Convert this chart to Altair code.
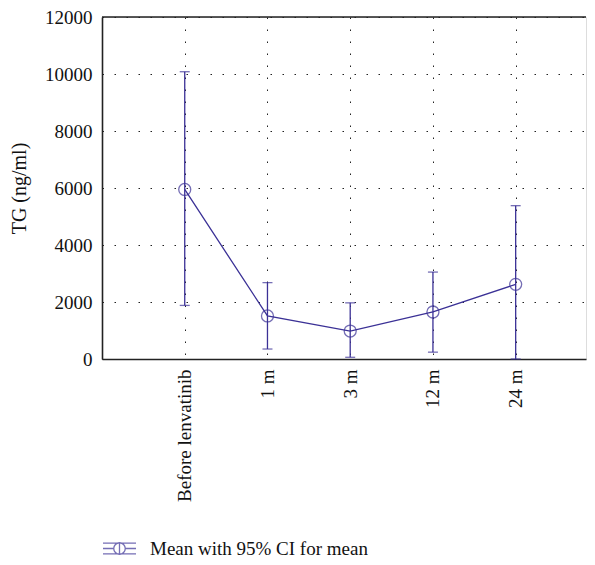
import json
import altair as alt
import pandas as pd

categories = ["Before lenvatinib", "1 m", "3 m", "12 m", "24 m"]
means = [5950, 1510, 980, 1650, 2620]
lower = [1880, 350, 60, 240, 0]
upper = [10080, 2680, 1970, 3050, 5380]
series_name = "Mean with 95% CI for mean"
y_ticks = [0, 2000, 4000, 6000, 8000, 10000, 12000]
y_max = 12000

df = pd.DataFrame({
    "idx": list(range(1, len(categories) + 1)),
    "cat": categories,
    "mean": means,
    "lo": lower,
    "hi": upper,
    "series": [series_name] * len(categories),
    "top": [y_max] * len(categories),
})

COLOR = "#3b3196"
FONT = "Liberation Serif"
W, H = 484, 342

label_expr = json.dumps(categories) + "[datum.value - 1]"

xscale = alt.Scale(domain=[0, 5.85], nice=False, zero=False)
yscale = alt.Scale(domain=[0, y_max], nice=False)

x_axis = alt.Axis(
    values=list(range(1, len(categories) + 1)),
    labelExpr=label_expr,
    labelAngle=270,
    labelAlign="right",
    labelBaseline="middle",
    labelPadding=10,
    ticks=False,
    grid=True,
    gridDash=[1.5, 10.5],
    gridColor="#222",
    gridWidth=1,
    domain=True,
    domainColor="#222",
    domainWidth=1.6,
    title=None,
    labelFont=FONT,
    labelFontSize=19,
    labelColor="#111",
)
y_axis = alt.Axis(
    values=y_ticks,
    format="d",
    ticks=False,
    grid=True,
    gridDash=[1.5, 10.5],
    gridColor="#222",
    gridWidth=1,
    domain=True,
    domainColor="#222",
    domainWidth=1.6,
    labelPadding=10,
    title="TG (ng/ml)",
    titleFont=FONT,
    titleFontSize=20,
    titleFontWeight="normal",
    titleColor="#111",
    titlePadding=15,
    labelFont=FONT,
    labelFontSize=19,
    labelColor="#111",
)

legend_path = (
    "M-1,-0.33H1M-1,0.33H1M-1,0H-0.35M0.35,0H1M0,-0.33V0.33"
    "M0.35,0A0.35,0.35 0 1,1 -0.35,0A0.35,0.35 0 1,1 0.35,0Z"
)

color = alt.Color(
    "series:N",
    scale=alt.Scale(range=[COLOR]),
    legend=alt.Legend(
        title=None,
        orient="none",
        legendX=0,
        legendY=514,
        symbolType=legend_path,
        symbolSize=1089,
        symbolStrokeColor=COLOR,
        symbolFillColor="transparent",
        symbolStrokeWidth=1.3,
        labelFont=FONT,
        labelFontSize=19,
        labelColor="#111",
        labelOffset=13,
        labelLimit=500,
        padding=0,
    ),
)

base = alt.Chart(df)

line = base.mark_line(strokeWidth=1.3).encode(
    x=alt.X("idx:Q", scale=xscale, axis=x_axis),
    y=alt.Y("mean:Q", scale=yscale, axis=y_axis),
    color=color,
)

bars = base.mark_rule(strokeWidth=1.3, color=COLOR).encode(
    x="idx:Q",
    y="lo:Q",
    y2="hi:Q",
)

cap_lo = base.mark_tick(orient="horizontal", size=10, thickness=1.3, color=COLOR).encode(
    x="idx:Q",
    y="lo:Q",
)
cap_hi = base.mark_tick(orient="horizontal", size=10, thickness=1.3, color=COLOR).encode(
    x="idx:Q",
    y="hi:Q",
)

points = base.mark_point(shape="circle", size=144, filled=False, strokeWidth=1.3).encode(
    x="idx:Q",
    y="mean:Q",
    color=color,
)

top_border = base.mark_rule(color="#222", strokeWidth=1.6).encode(y="max(top):Q")

chart = (
    alt.layer(line, bars, cap_lo, cap_hi, points, top_border)
    .resolve_scale(x="shared", y="shared")
    .resolve_axis(x="shared", y="shared")
    .properties(
        width=W,
        height=H,
        autosize=alt.AutoSizeParams(type="none"),
        padding={"left": 94, "top": 9, "right": 1, "bottom": 198},
    )
    .configure_view(strokeWidth=0, stroke="transparent")
    .configure_axis(labelFont=FONT, titleFont=FONT)
    .configure_legend(labelFont=FONT)
    .configure(background="white", font=FONT)
)

chart.save("out.html", embed_options={"renderer": "svg", "actions": False})
